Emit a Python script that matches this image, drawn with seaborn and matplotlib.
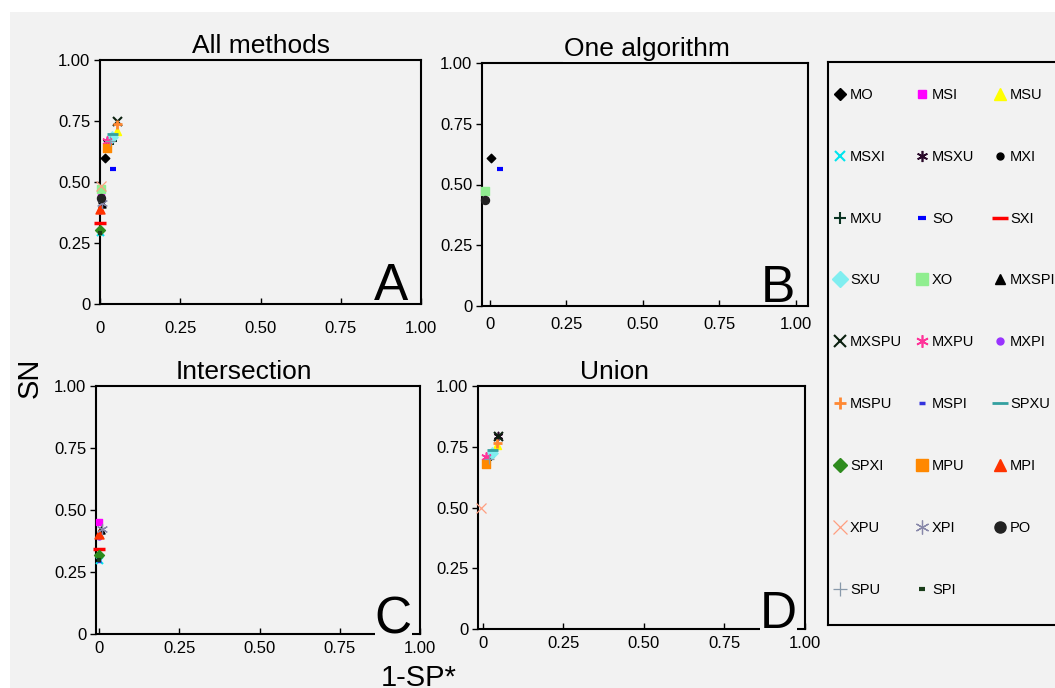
import pandas as pd
import matplotlib
matplotlib.use("Agg")
import matplotlib.pyplot as plt
from matplotlib.lines import Line2D
from matplotlib.markers import MarkerStyle
from matplotlib.patches import Rectangle
import seaborn as sns

plt.rcParams['font.family'] = ['Liberation Sans', 'DejaVu Sans']

# legend order (row by row)
methods = ['MO', 'MSI', 'MSU', 'MSXI', 'MSXU', 'MXI', 'MXU', 'SO', 'SXI',
           'SXU', 'XO', 'MXSPI', 'MXSPU', 'MXPU', 'MXPI', 'MSPU', 'MSPI',
           'SPXU', 'SPXI', 'MPU', 'MPI', 'XPU', 'XPI', 'PO', 'SPU', 'SPI']

# A: all methods, same order as `methods`
a_x = [0.017, 0.003, 0.054, 0.0, 0.022, 0.004, 0.041, 0.040, 0.0,
       0.038, 0.004, 0.006, 0.054, 0.022, 0.0, 0.054, 0.0,
       0.038, 0.0, 0.022, 0.0, 0.004, 0.006, 0.004, 0.030, 0.0]
a_y = [0.600, 0.440, 0.709, 0.295, 0.665, 0.420, 0.668, 0.552, 0.330,
       0.686, 0.470, 0.410, 0.751, 0.668, 0.380, 0.736, 0.290,
       0.695, 0.303, 0.640, 0.390, 0.484, 0.413, 0.436, 0.670, 0.290]

# B: one algorithm
b_methods = ['MO', 'SO', 'XO', 'PO']
b_x = [0.005, 0.035, -0.015, -0.015]
b_y = [0.610, 0.565, 0.475, 0.438]

# C: intersection
c_methods = ['MSI', 'MSXI', 'MXI', 'SXI', 'MXSPI', 'MXPI', 'MSPI', 'SPXI',
             'MPI', 'XPI', 'SPI']
c_x = [0.0, 0.0, 0.005, 0.0, 0.005, 0.0, 0.0, 0.0, 0.0, 0.008, 0.0]
c_y = [0.450, 0.300, 0.415, 0.343, 0.420, 0.390, 0.295, 0.318, 0.405, 0.425, 0.300]

# D: union
d_methods = ['MSU', 'MSXU', 'MXU', 'SXU', 'MXSPU', 'MXPU', 'MSPU', 'SPXU',
             'MPU', 'XPU', 'SPU']
d_x = [0.043, 0.046, 0.024, 0.028, 0.046, 0.009, 0.045, 0.028, 0.009, -0.005, 0.020]
d_y = [0.757, 0.796, 0.706, 0.724, 0.796, 0.706, 0.767, 0.737, 0.678, 0.497, 0.700]

ticks = [0, 0.25, 0.5, 0.75, 1.0]
tick_labels = ['0', '0.25', '0.50', '0.75', '1.00']

star = (6, 2, 0)
# marker, colour, size (pt), line width
styles = {
    'MO': ('D', '#000000', 6, 1), 'MSI': ('s', '#ff00ff', 6, 1),
    'MSU': ('^', '#ffff00', 8, 1), 'MSXI': ('x', '#00e5ee', 7, 1.5),
    'MSXU': (star, '#2a0a2a', 8, 1.2), 'MXI': ('o', '#000000', 5, 1),
    'MXU': ('+', '#0a3322', 8, 1.5), 'SO': ('_', '#0000ff', 6, 3),
    'SXI': ('_', '#ff0000', 12, 2.5), 'SXU': ('D', '#80eef0', 8, 1),
    'XO': ('s', '#90ee90', 8, 1), 'MXSPI': ('^', '#000000', 7, 1),
    'MXSPU': ('x', '#0b200f', 9, 1.5), 'MXPU': (star, '#ff3399', 9, 1.2),
    'MXPI': ('o', '#9933ff', 5, 1), 'MSPU': ('+', '#ff8833', 9, 2),
    'MSPI': ('_', '#3333dd', 5, 2.5), 'SPXU': ('_', '#33a0a0', 11, 2),
    'SPXI': ('D', '#2e8b1e', 7, 1), 'MPU': ('s', '#ff8800', 8, 1),
    'MPI': ('^', '#ff3300', 9, 1), 'XPU': ('x', '#ff9f80', 10, 0.9),
    'XPI': (star, '#8888aa', 10, 0.9), 'PO': ('o', '#222222', 8, 1),
    'SPU': ('+', '#8899aa', 10, 0.9), 'SPI': ('_', '#1a3d1a', 5, 3),
}

bg = '#f2f2f2'
W, H = 1055, 688
fig = plt.figure(figsize=(W / 100, H / 100), dpi=100)
fig.patch.set_facecolor('white')
fig.patches.append(Rectangle((10 / W, 0), 1, 1 - 12 / H, transform=fig.transFigure,
                             facecolor=bg, edgecolor='none', zorder=-10))


def px_rect(left, top, right, bottom):
    return [left / W, 1 - bottom / H, (right - left) / W, (bottom - top) / H]


panels = [
    ('All methods', 'A', methods, a_x, a_y, px_rect(100, 60, 421, 304), 0.5, (0, 1.0), 12),
    ('One algorithm', 'B', b_methods, b_x, b_y, px_rect(482, 63, 808, 306), 0.506, (-0.025, 1.04), 8),
    ('Intersection', 'C', c_methods, c_x, c_y, px_rect(96, 386, 420, 634), 0.457, (-0.01, 1.0), 5),
    ('Union', 'D', d_methods, d_x, d_y, px_rect(478, 386, 805, 629), 0.416, (-0.015, 1.0), 5),
]

for title, letter, meths, xs, ys, rect, tx, xlim, xpad in panels:
    ax = fig.add_axes(rect)
    ax.set_facecolor(bg)
    df = pd.DataFrame({'method': meths, 'x': xs, 'y': ys})
    for _, row in df.iterrows():
        mk, col, sz, lw = styles[row['method']]
        kw = dict(edgecolor=col) if MarkerStyle(mk).is_filled() else {}
        sns.scatterplot(x=[row['x']], y=[row['y']], marker=mk, color=col,
                        s=(sz * 0.72) ** 2, linewidth=lw, ax=ax, zorder=3,
                        clip_on=False, **kw)
    ax.set_xlim(*xlim)
    ax.set_ylim(0, 1.0)
    ax.set_xticks(ticks)
    ax.set_xticklabels(tick_labels)
    ax.set_yticks(ticks)
    ax.set_yticklabels(tick_labels)
    ax.set_xlabel('')
    ax.set_ylabel('')
    ax.tick_params(axis='y', direction='out', length=4, width=1, pad=3, labelsize=12)
    ax.tick_params(axis='x', direction='in', length=4, width=1, pad=xpad, labelsize=12)
    ax.xaxis.set_zorder(5)
    for sp in ax.spines.values():
        sp.set_linewidth(1.5)
        sp.set_color('black')
    t = ax.set_title(title, fontsize=19, pad=5, x=tx)
    if letter == 'B':
        t.set_bbox(dict(facecolor=bg, edgecolor='none', pad=1))
    if letter in 'CD':
        ax.text(0.975, 0.003, letter, transform=ax.transAxes, ha='right', va='baseline',
                fontsize=37, zorder=4, bbox=dict(facecolor=bg, edgecolor='none', pad=0))
    else:
        ax.text(0.96, 0.017, letter, transform=ax.transAxes, ha='right', va='baseline',
                fontsize=37, zorder=4)

fig.text(30 / W, 1 - 378 / H, 'SN', rotation=90, fontsize=21, ha='center', va='center')
fig.text(419 / W, 1.5 / H, '1-SP*', fontsize=21, ha='center', va='baseline')

# legend panel
leg_ax = fig.add_axes(px_rect(828, 62, 1150, 625))
leg_ax.set_facecolor(bg)
leg_ax.set_xticks([])
leg_ax.set_yticks([])
for sp in leg_ax.spines.values():
    sp.set_linewidth(1.5)

handles = []
for m in methods:
    mk, col, sz, lw = styles[m]
    handles.append(Line2D([], [], linestyle='none', marker=mk, color=col,
                          markersize=sz, markeredgewidth=lw))

# one legend per column, markers centred at these pixel positions
col_px = [840, 922, 1000]
for c, xpx in enumerate(col_px):
    idx = list(range(c, len(methods), 3))
    leg = leg_ax.legend([handles[i] for i in idx], [methods[i] for i in idx],
                        loc='upper left', bbox_to_anchor=((xpx - 6.6) / W, 1 - 88 / H),
                        bbox_transform=fig.transFigure, frameon=False,
                        fontsize=10.5, labelspacing=3.28, handlelength=0.9,
                        handletextpad=0.23, borderpad=0, borderaxespad=0)
    if c < len(col_px) - 1:
        leg_ax.add_artist(leg)

fig.savefig('out.png', dpi=100, facecolor=fig.get_facecolor())
